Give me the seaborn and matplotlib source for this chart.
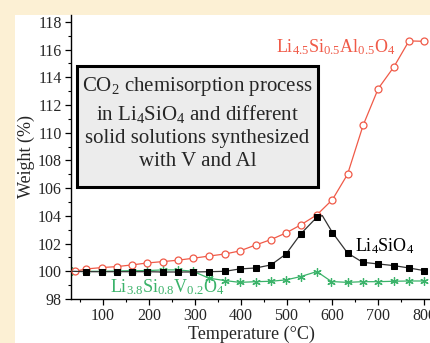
import matplotlib
matplotlib.use("Agg")
import matplotlib.pyplot as plt
import seaborn as sns
import numpy as np
from matplotlib.patches import Rectangle
from matplotlib.ticker import MultipleLocator

# ---- data ----
temp_al = [39, 63, 98, 130, 163, 196, 230, 263, 296, 331, 366, 398, 433, 466, 499, 531, 566, 600, 633, 667, 700, 734, 767, 800]
w_al = [100.0, 100.17, 100.27, 100.34, 100.46, 100.6, 100.7, 100.8, 100.94, 101.1, 101.25, 101.47, 101.9, 102.29, 102.77, 103.35, 104.07, 105.17, 107.0, 110.54, 113.19, 114.75, 116.63, 116.6]

temp_li = [33, 63, 98, 130, 163, 196, 230, 263, 296, 331, 366, 398, 433, 466, 499, 531, 566, 578, 600, 633, 666, 700, 734, 767, 800]
w_li = [100.0, 99.97, 99.97, 99.97, 99.97, 99.97, 99.95, 99.95, 99.95, 99.97, 100.0, 100.17, 100.24, 100.46, 101.25, 102.7, 103.9, 104.02, 102.8, 101.32, 100.65, 100.53, 100.41, 100.24, 100.05]
li_marks = [i for i in range(len(temp_li)) if temp_li[i] not in (33, 578)]

temp_v = [33, 63, 98, 130, 163, 196, 230, 263, 296, 331, 366, 398, 433, 466, 499, 531, 566, 598, 633, 666, 700, 734, 767, 800]
w_v = [100.0, 100.0, 100.0, 100.02, 100.05, 100.05, 100.1, 100.1, 100.0, 99.5, 99.33, 99.2, 99.25, 99.28, 99.38, 99.62, 99.98, 99.26, 99.2, 99.25, 99.25, 99.28, 99.3, 99.3]

x_ticks = [100, 200, 300, 400, 500, 600, 700, 800]
y_ticks = [98, 100, 102, 104, 106, 108, 110, 112, 114, 116, 118]

label_al = r'Li$_{4.5}$Si$_{0.5}$Al$_{0.5}$O$_{4}$'
label_li = r'Li$_{4}$SiO$_{4}$'
label_v = r'Li$_{3.8}$Si$_{0.8}$V$_{0.2}$O$_{4}$'
box_text = ("CO$_{2}$ chemisorption process\n"
            "in Li$_{4}$SiO$_{4}$ and different\n"
            "solid solutions synthesized\n"
            "with V and Al")

RED = '#f05a48'
GREEN = '#3bb36a'

sns.set_style("ticks")
plt.rcParams['font.family'] = ['Liberation Serif', 'DejaVu Serif']
plt.rcParams['mathtext.fontset'] = 'custom'
plt.rcParams['mathtext.rm'] = 'Liberation Serif'
plt.rcParams['mathtext.it'] = 'Liberation Serif:italic'
plt.rcParams['mathtext.default'] = 'regular'

W, H = 430, 343
fig = plt.figure(figsize=(W / 100, H / 100), dpi=100)
fig.patch.set_facecolor('#fcf0d4')
fig.patches.append(Rectangle((15 / W, 0), 1, 1 - 15 / H, transform=fig.transFigure,
                             facecolor='white', edgecolor='none', zorder=-10))

ax = fig.add_axes([71 / W, (H - 299) / H, (431 - 71) / W, (299 - 15) / H])
ax.set_facecolor('white')

sns.lineplot(x=temp_al, y=w_al, ax=ax, color=RED, lw=0.9, marker='o', markersize=5,
             markerfacecolor='white', markeredgecolor=RED, markeredgewidth=0.9,
             estimator=None, sort=False, zorder=3)
sns.lineplot(x=temp_li, y=w_li, ax=ax, color='#333333', lw=0.9, marker='s', markersize=4.5,
             markerfacecolor='black', markeredgecolor='black', markevery=li_marks,
             estimator=None, sort=False, zorder=4)
sns.lineplot(x=temp_v, y=w_v, ax=ax, color=GREEN, lw=0.9, marker=(6, 2, 0), markersize=6,
             markeredgecolor=GREEN, markeredgewidth=0.9,
             estimator=None, sort=False, zorder=2)

ax.set_xlim(30, 815)
ax.set_ylim(98, 118.5)
ax.set_xticks(x_ticks)
ax.set_yticks(y_ticks)
ax.xaxis.set_minor_locator(MultipleLocator(50))
ax.yaxis.set_minor_locator(MultipleLocator(1))
ax.tick_params(axis='both', which='major', direction='out', length=4.5, width=0.9,
               labelsize=11.5, color='black', pad=2)
ax.tick_params(axis='both', which='minor', direction='out', length=2.5, width=0.8, color='black')
for s in ['top', 'right']:
    ax.spines[s].set_visible(False)
for s in ['left', 'bottom']:
    ax.spines[s].set_linewidth(1.0)
    ax.spines[s].set_color('black')

ax.set_xlabel('Temperature (°C)', fontsize=13, labelpad=1)
ax.set_ylabel('Weight (%)', fontsize=13, labelpad=2)

ax.text(0.9, 0.886, label_al, transform=ax.transAxes, color=RED, fontsize=13,
        ha='right', va='center')
ax.text(0.79, 0.186, label_li, transform=ax.transAxes, color='black', fontsize=13,
        ha='left', va='center')
ax.text(0.108, 0.04, label_v, transform=ax.transAxes, color=GREEN, fontsize=13,
        ha='left', va='center')

# annotation box
bx0, bx1 = (77 - 71) / 360, (318 - 71) / 360
by1, by0 = 1 - (66 - 15) / 284, 1 - (187 - 15) / 284
ax.add_patch(Rectangle((bx0, by0), bx1 - bx0, by1 - by0, transform=ax.transAxes,
                       facecolor='#ececec', edgecolor='black', linewidth=2.2, zorder=6))
ax.text((bx0 + bx1) / 2, 1 - (123 - 15) / 284, box_text, transform=ax.transAxes,
        fontsize=15, ha='center', va='center', linespacing=1.3, zorder=7)

fig.savefig('out.png', dpi=100, facecolor=fig.get_facecolor())
